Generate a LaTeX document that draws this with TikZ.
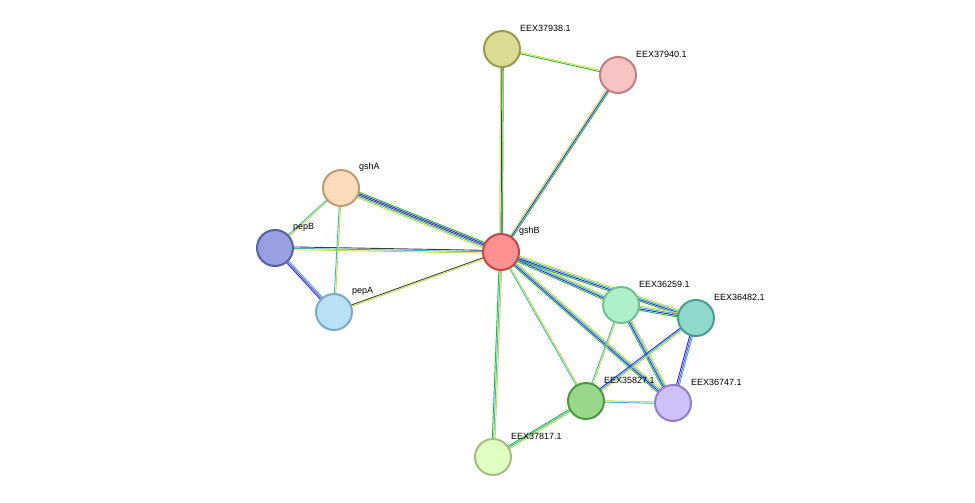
\documentclass[tikz,border=0pt]{standalone}
\usepackage{fontspec}
\setmainfont{Liberation Sans}
\usetikzlibrary{calc}
\definecolor{eg}{HTML}{2DB82D}
\definecolor{ey}{HTML}{C8DC3C}
\definecolor{ec}{HTML}{3CB4D8}
\definecolor{eb}{HTML}{2828F0}
\definecolor{ek}{HTML}{404040}
\definecolor{ep}{HTML}{8050C8}
\definecolor{fa}{HTML}{DCDC94}\definecolor{ba}{HTML}{9A9A4E}
\definecolor{fb}{HTML}{F7C4C4}\definecolor{bb}{HTML}{C08080}
\definecolor{fgA}{HTML}{FDDCBD}\definecolor{bgA}{HTML}{C29A72}
\definecolor{fpB}{HTML}{99A0E0}\definecolor{bpB}{HTML}{5562A0}
\definecolor{fgB}{HTML}{FF9090}\definecolor{bgB}{HTML}{C04848}
\definecolor{fpA}{HTML}{B8E0F7}\definecolor{bpA}{HTML}{7AAAC8}
\definecolor{fc}{HTML}{B0F0C8}\definecolor{bc}{HTML}{70C090}
\definecolor{fd}{HTML}{8FD8CC}\definecolor{bd}{HTML}{4A9C90}
\definecolor{fe}{HTML}{99D88A}\definecolor{be}{HTML}{4A9A40}
\definecolor{ff}{HTML}{D0C0F8}\definecolor{bf}{HTML}{9080C8}
\definecolor{fg}{HTML}{E0FFC0}\definecolor{bg}{HTML}{A0C080}
\newcommand\edg[4]{%
  \foreach \c [count=\i] in {#4} {%
    \pgfmathsetmacro\oo{(\i-(#3+1)/2)*1.4}%
    \draw[edgeline,draw=\c] ($(#1)!\oo pt!90:(#2)$) -- ($(#2)!\oo pt!-90:(#1)$);}}
\newcommand\prot[2]{%
  \node[protnode,fill=f#1,draw=b#1] (n#1) at (#1) {};
  \node[lbl] (l#1) at ($(#1)+(18,-21)$) {#2};}
\begin{document}
\begin{tikzpicture}[x=1pt,y=-1pt,
  edgeline/.style={line width=0.9pt},
  protnode/.style={circle,minimum size=36pt,inner sep=0pt,line width=2pt},
  lbl/.style={anchor=west,font=\fontsize{9}{10}\selectfont,inner sep=0pt}]
\fill[white] (0,0) rectangle (975,503);
\useasboundingbox (0,0) rectangle (975,503);
\coordinate (a) at (502,49);
\coordinate (b) at (618,75);
\coordinate (gA) at (341,188);
\coordinate (pB) at (275,248);
\coordinate (gB) at (501,252);
\coordinate (pA) at (334,312);
\coordinate (c) at (621,305);
\coordinate (d) at (696,318);
\coordinate (e) at (586,401);
\coordinate (f) at (673,403);
\coordinate (g) at (493,457);
\edg{gB}{a}{3}{eg,ek,ey}
\edg{a}{b}{2}{eg,ey}
\edg{gB}{b}{3}{eg,eb,ey}
\edg{gB}{gA}{5}{eg,eb,ek,ec,ey}
\edg{gB}{pB}{3}{ek,ec,ey}
\edg{gB}{pA}{2}{ek,ey}
\edg{gA}{pB}{2}{ec,ey}
\edg{gA}{pA}{2}{ec,ey}
\edg{pB}{pA}{3}{eb,ep,ec}
\edg{gB}{c}{4}{eg,eb,ec,ey}
\edg{gB}{d}{4}{eg,eb,ec,ey}
\edg{gB}{e}{2}{ec,ey}
\edg{gB}{f}{4}{eg,eb,ec,ey}
\edg{gB}{g}{3}{eg,ec,ey}
\edg{c}{d}{4}{eg,eb,ec,ey}
\edg{c}{e}{2}{ec,ey}
\edg{c}{f}{4}{eg,eb,ec,ey}
\edg{d}{e}{3}{eb,ec,ey}
\edg{d}{f}{3}{eb,ep,ec}
\edg{e}{f}{2}{ec,ey}
\edg{e}{g}{3}{eg,ec,ey}
\prot{a}{EEX37938.1}
\prot{b}{EEX37940.1}
\prot{gA}{gshA}
\prot{pB}{pepB}
\prot{gB}{gshB}
\prot{pA}{pepA}
\prot{c}{EEX36259.1}
\prot{d}{EEX36482.1}
\prot{e}{EEX35827.1}
\prot{f}{EEX36747.1}
\prot{g}{EEX37817.1}
\end{tikzpicture}
\end{document}
